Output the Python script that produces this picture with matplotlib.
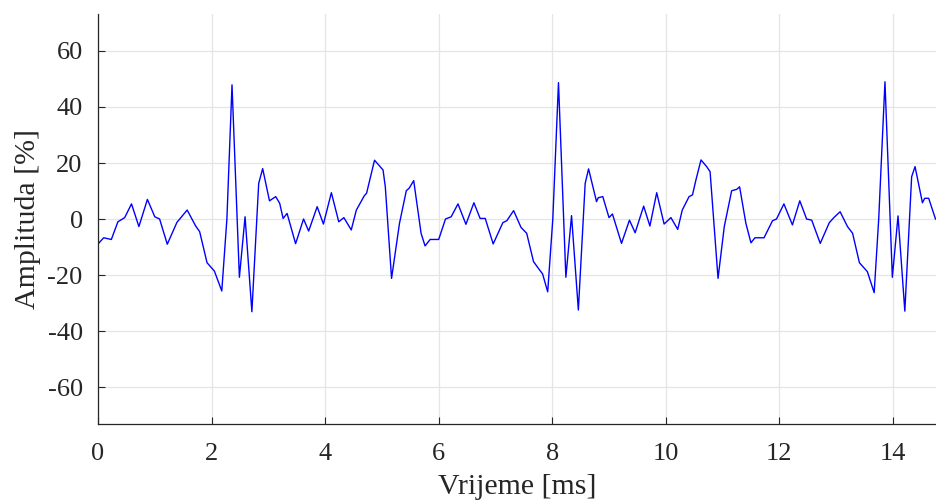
import matplotlib

matplotlib.use("Agg")
import matplotlib.pyplot as plt
import numpy as np

# values (time in ms, amplitude in %)
time_ms = [
    0.00, 0.10, 0.235, 0.35, 0.47, 0.59, 0.72, 0.87, 1.00, 1.085,
    1.22, 1.39, 1.57, 1.72, 1.79, 1.92, 2.05, 2.18, 2.27, 2.36,
    2.49, 2.59, 2.71, 2.83, 2.90, 3.02, 3.13, 3.20, 3.26, 3.33,
    3.48, 3.62, 3.71, 3.86, 3.97, 4.11, 4.24, 4.33, 4.46, 4.55,
    4.69, 4.73, 4.87, 5.02, 5.06, 5.17, 5.31, 5.43, 5.48, 5.56,
    5.69, 5.76, 5.85, 6.00, 6.12, 6.22, 6.34, 6.48, 6.62, 6.73,
    6.82, 6.96, 7.13, 7.20, 7.32, 7.45, 7.55, 7.67, 7.77, 7.83,
    7.92, 8.01, 8.11, 8.24, 8.34, 8.46, 8.58, 8.64, 8.78, 8.81,
    8.89, 9.00, 9.06, 9.22, 9.36, 9.46, 9.61, 9.72, 9.84, 9.97,
    10.09, 10.21, 10.29, 10.41, 10.47, 10.53, 10.62, 10.72, 10.78, 10.92,
    11.03, 11.16, 11.25, 11.30, 11.41, 11.50, 11.57, 11.73, 11.88, 11.95,
    12.08, 12.23, 12.36, 12.48, 12.57, 12.72, 12.88, 12.96, 13.07, 13.20,
    13.29, 13.41, 13.55, 13.67, 13.75, 13.86, 13.99, 14.09, 14.21, 14.33,
    14.39, 14.52, 14.56, 14.63, 14.75,
]
amplitude = [
    -8.9, -6.7, -7.3, -1.0, 0.5, 5.4, -2.7, 7.0, 0.8, 0.0,
    -9.0, -1.2, 3.2, -2.5, -4.5, -15.6, -18.6, -25.7, 0.0, 47.9,
    -20.8, 0.8, -33.1, 12.7, 18.0, 6.5, 8.0, 5.6, 0.2, 2.0,
    -8.8, 0.0, -4.3, 4.4, -1.8, 9.4, -1.0, 0.5, -3.9, 3.2,
    8.3, 9.2, 21.0, 17.5, 11.5, -21.2, -1.5, 10.1, 11.0, 13.7,
    -5.1, -9.6, -7.3, -7.3, 0.0, 0.8, 5.4, -1.9, 5.8, 0.2,
    0.2, -8.9, -1.3, -0.6, 3.0, -3.0, -5.1, -15.2, -18.0, -19.6,
    -26.0, 0.0, 48.7, -20.8, 1.2, -32.5, 12.7, 17.9, 6.2, 7.6,
    8.0, 0.5, 1.8, -8.7, -0.4, -4.9, 4.6, -2.5, 9.4, -1.8,
    0.5, -3.7, 3.2, 8.0, 8.6, 13.9, 21.1, 18.7, 16.9, -21.2,
    -2.7, 10.1, 10.6, 11.5, -1.5, -8.5, -6.7, -6.7, -0.6, 0.0,
    5.4, -2.1, 6.5, 0.0, -0.4, -8.7, -1.3, 0.5, 2.6, -2.7,
    -5.1, -15.6, -18.8, -26.3, 0.0, 49.0, -20.8, 1.1, -32.9, 15.1,
    18.7, 5.8, 7.4, 7.4, 0.0,
]
x_ticks = [0, 2, 4, 6, 8, 10, 12, 14]
y_ticks = [-60, -40, -20, 0, 20, 40, 60]

plt.rcParams["font.family"] = ["Liberation Serif", "DejaVu Serif"]
plt.rcParams["axes.unicode_minus"] = False

fig = plt.figure(figsize=(9.37, 5.04), dpi=100)
ax = fig.add_axes([0.1046, 0.1587, 0.8944, 0.8135])

ax.plot(np.asarray(time_ms), np.asarray(amplitude), color="#0000ff", linewidth=1.0)

ax.set_xlim(0, 14.76)
ax.set_ylim(-73.2, 73.2)
ax.set_xticks(x_ticks)
ax.set_yticks(y_ticks)
ax.set_xticklabels([str(v) for v in x_ticks])
ax.set_yticklabels([str(v) for v in y_ticks])

ax.grid(True, color="#e5e5e5", linewidth=0.9)
ax.set_axisbelow(True)
for side in ("top", "right"):
    ax.spines[side].set_visible(False)
for side in ("left", "bottom"):
    ax.spines[side].set_color("#262626")
    ax.spines[side].set_linewidth(0.9)
ax.tick_params(direction="in", length=5, width=0.8, color="#262626",
               labelsize=19, labelcolor="#262626")
ax.tick_params(axis="x", pad=14)
ax.tick_params(axis="y", pad=11)

ax.set_xlabel("Vrijeme [ms]", fontsize=21.5, color="#262626", labelpad=6)
ax.set_ylabel("Amplituda [%]", fontsize=21.5, color="#262626", labelpad=5)

fig.savefig("out.png", dpi=100)
plt.close(fig)
